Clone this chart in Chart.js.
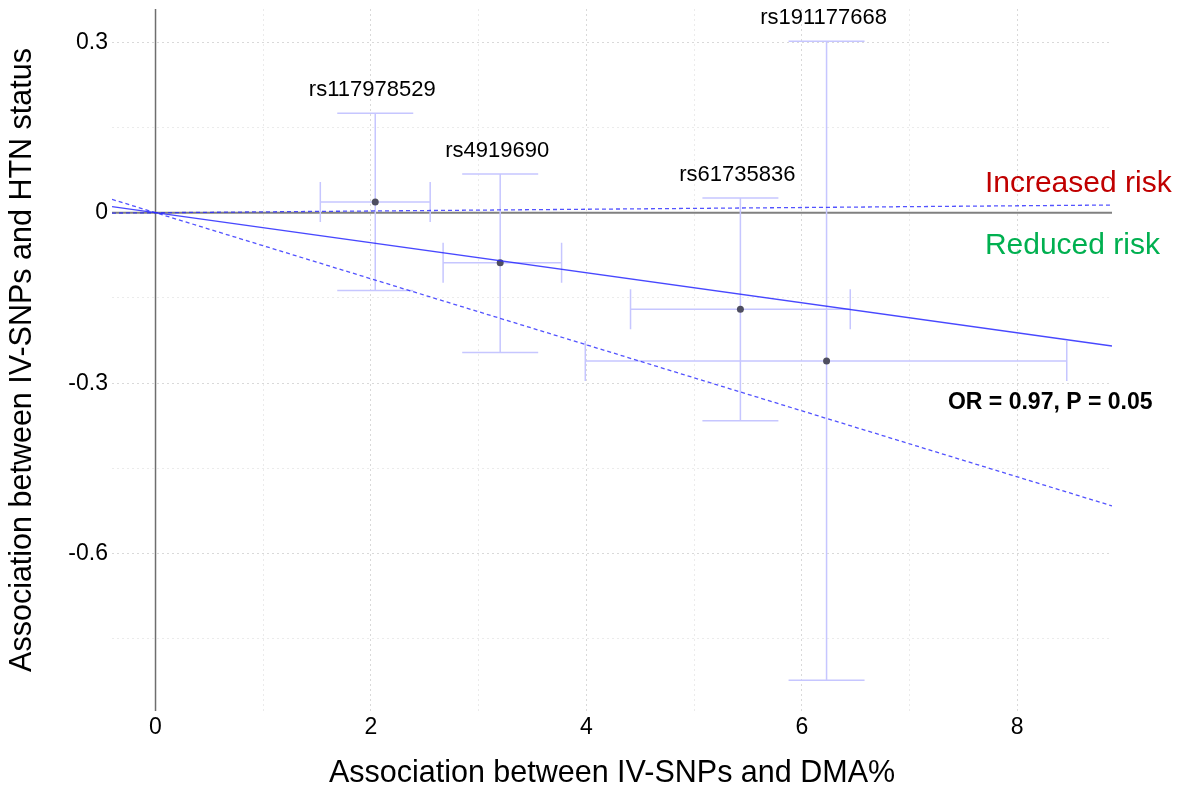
<!DOCTYPE html>
<html>
<head>
<meta charset="utf-8">
<script src="https://cdn.jsdelivr.net/npm/chart.js@4.4.0/dist/chart.umd.min.js"></script>
<style>
  html, body { margin: 0; padding: 0; background: #fff; }
  #chart { display: block; }
</style>
</head>
<body>
<canvas id="chart" width="1181" height="793"></canvas>
<script>
// SNP estimates (x: IV-SNP -> DMA%, y: IV-SNP -> HTN status)
const snps = ['rs117978529', 'rs4919690', 'rs61735836', 'rs191177668'];
const bx   = [2.04, 3.20, 5.43, 6.23];
const bxLo = [1.53, 2.67, 4.41, 3.99];
const bxHi = [2.55, 3.77, 6.45, 8.46];
const by   = [0.019, -0.088, -0.170, -0.261];
const byLo = [-0.137, -0.246, -0.366, -0.823];
const byHi = [0.175, 0.068, 0.026, 0.302];

// fitted lines (estimate and CI), read at the plot edges
const lineX  = [-0.404, 8.88];
const ivwY   = [0.0107, -0.2347];
const upperY = [-0.0006, 0.0136];
const lowerY = [0.0235, -0.516];

const xTicks = [0, 2, 4, 6, 8];
const yTicks = [-0.6, -0.3, 0, 0.3];

const FONT = 'Arial, "Liberation Sans", sans-serif';

function pts(xs, ys) {
  return xs.map((v, i) => ({x: v, y: ys[i]}));
}

const errorBars = {
  id: 'errorBars',
  beforeDatasetsDraw(chart) {
    const {ctx, chartArea, scales: {x, y}} = chart;
    ctx.save();
    // reference lines at zero
    const x0 = x.getPixelForValue(0);
    const y0 = y.getPixelForValue(0);
    ctx.strokeStyle = '#808080';
    ctx.lineWidth = 2;
    ctx.beginPath();
    ctx.moveTo(chartArea.left, y0);
    ctx.lineTo(chartArea.right, y0);
    ctx.stroke();
    ctx.strokeStyle = '#6e6e6e';
    ctx.lineWidth = 1.5;
    ctx.beginPath();
    ctx.moveTo(x0, chartArea.top);
    ctx.lineTo(x0, chartArea.bottom);
    ctx.stroke();

    // error bars
    ctx.strokeStyle = 'rgb(198,198,255)';
    ctx.lineWidth = 1.5;
    snps.forEach((s, i) => {
      const px = x.getPixelForValue(bx[i]);
      const py = y.getPixelForValue(by[i]);
      const yl = y.getPixelForValue(byLo[i]);
      const yh = y.getPixelForValue(byHi[i]);
      const xl = x.getPixelForValue(bxLo[i]);
      const xh = x.getPixelForValue(bxHi[i]);
      ctx.beginPath();
      ctx.moveTo(px, yl); ctx.lineTo(px, yh);
      ctx.moveTo(px - 38, yl); ctx.lineTo(px + 38, yl);
      ctx.moveTo(px - 38, yh); ctx.lineTo(px + 38, yh);
      ctx.moveTo(xl, py); ctx.lineTo(xh, py);
      ctx.moveTo(xl, py - 20); ctx.lineTo(xl, py + 20);
      ctx.moveTo(xh, py - 20); ctx.lineTo(xh, py + 20);
      ctx.stroke();
    });
    ctx.restore();
  },
  afterDraw(chart) {
    const {ctx, scales: {x, y}} = chart;
    ctx.save();
    ctx.fillStyle = '#000';
    ctx.font = '22px ' + FONT;
    ctx.textAlign = 'center';
    ctx.textBaseline = 'middle';
    snps.forEach((s, i) => {
      ctx.fillText(s, x.getPixelForValue(bx[i]) - 3, y.getPixelForValue(byHi[i]) - 23);
    });

    ctx.textAlign = 'left';
    ctx.font = '30px ' + FONT;
    ctx.fillStyle = '#c00000';
    ctx.fillText('Increased risk', x.getPixelForValue(7.70), y.getPixelForValue(0.051));
    ctx.fillStyle = '#00b050';
    ctx.fillText('Reduced risk', x.getPixelForValue(7.70), y.getPixelForValue(-0.058));
    ctx.fillStyle = '#000';
    ctx.font = 'bold 23px ' + FONT;
    ctx.fillText('OR = 0.97, P = 0.05', x.getPixelForValue(7.357), y.getPixelForValue(-0.335));
    ctx.restore();
  }
};

const ctx = document.getElementById('chart').getContext('2d');
const chart = new Chart(ctx, {
  type: 'scatter',
  data: {
    datasets: [
      {
        type: 'line',
        data: pts(lineX, upperY),
        borderColor: 'rgba(40,40,255,0.8)',
        borderWidth: 1.3,
        borderDash: [4, 3],
        pointRadius: 0
      },
      {
        type: 'line',
        data: pts(lineX, lowerY),
        borderColor: 'rgba(40,40,255,0.8)',
        borderWidth: 1.3,
        borderDash: [4, 3],
        pointRadius: 0
      },
      {
        type: 'line',
        data: pts(lineX, ivwY),
        borderColor: 'rgba(40,40,255,0.85)',
        borderWidth: 1.4,
        pointRadius: 0
      },
      {
        data: pts(bx, by),
        backgroundColor: '#4e4e60',
        borderWidth: 0,
        pointRadius: 3.5
      }
    ]
  },
  options: {
    responsive: false,
    animation: false,
    layout: { padding: { top: 9, right: 69, left: 0, bottom: 0 } },
    plugins: { legend: { display: false }, tooltip: { enabled: false } },
    scales: {
      x: {
        type: 'linear',
        min: -0.404,
        max: 8.88,
        afterFit(scale) {
          scale.height = 82;
          scale.paddingLeft = 0;
          scale.paddingRight = 0;
        },
        border: { display: false, dash: [2, 3] },
        grid: {
          drawTicks: false,
          lineWidth: 1,
          color: c => (xTicks.includes(Math.round(c.tick.value)) ? '#d9d9d9' : '#ebebeb')
        },
        ticks: {
          stepSize: 1,
          includeBounds: false,
          autoSkip: false,
          maxRotation: 0,
          padding: 3,
          color: '#000',
          font: { family: FONT, size: 23 },
          callback: v => (xTicks.includes(Math.round(v)) ? String(Math.round(v)) : '')
        },
        title: {
          display: true,
          text: 'Association between IV-SNPs and DMA%',
          color: '#000',
          font: { family: FONT, size: 30.5 },
          padding: { top: 0, bottom: 1 }
        }
      },
      y: {
        type: 'linear',
        min: -0.877,
        max: 0.3586,
        afterFit(scale) {
          scale.width = 112;
          scale.paddingTop = 0;
          scale.paddingBottom = 0;
        },
        border: { display: false, dash: [2, 3] },
        grid: {
          drawTicks: false,
          lineWidth: 1,
          color: c => (yTicks.some(t => Math.abs(t - c.tick.value) < 1e-6) ? '#d9d9d9' : '#ebebeb')
        },
        ticks: {
          stepSize: 0.15,
          includeBounds: false,
          autoSkip: false,
          padding: 4,
          color: '#000',
          font: { family: FONT, size: 23 },
          callback: v => {
            const t = yTicks.find(t => Math.abs(t - v) < 1e-6);
            return t === undefined ? '' : String(t);
          }
        },
        title: {
          display: true,
          text: 'Association between IV-SNPs and HTN status',
          color: '#000',
          font: { family: FONT, size: 30.5 },
          padding: { top: 4, bottom: 0 }
        }
      }
    }
  },
  plugins: [errorBars]
});
</script>
</body>
</html>
